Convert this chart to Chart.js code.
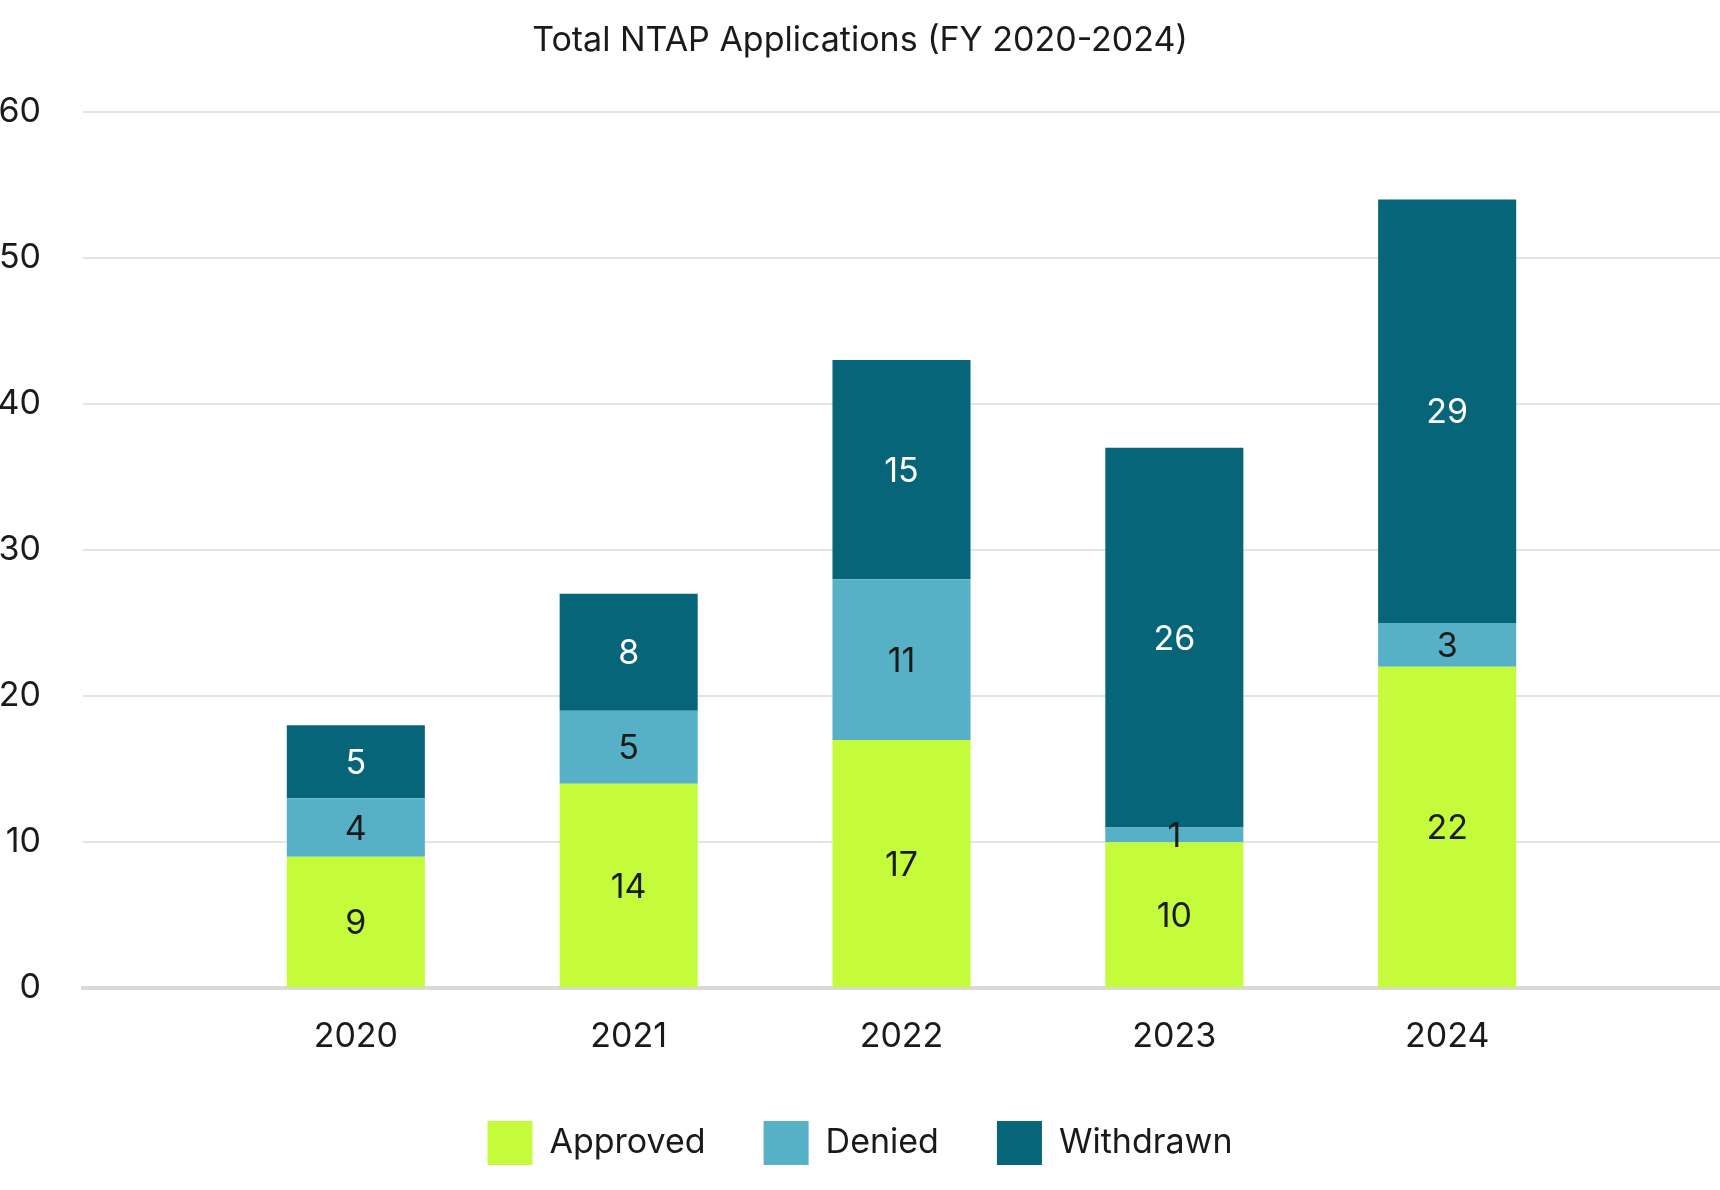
<!DOCTYPE html>
<html>
<head>
<meta charset="utf-8">
<script src="https://cdn.jsdelivr.net/npm/chart.js@4.4.1/dist/chart.umd.min.js"></script>
<style>
  html, body { margin: 0; padding: 0; background: #ffffff; }
  #wrap { width: 1720px; height: 1190px; position: relative; }
</style>
</head>
<body>
<div id="wrap"><canvas id="c" width="1720" height="1190"></canvas></div>
<script>
const categories = ['2020', '2021', '2022', '2023', '2024'];
const approved = [9, 14, 17, 10, 22];
const denied = [4, 5, 11, 1, 3];
const withdrawn = [5, 8, 15, 26, 29];
const seriesNames = ['Approved', 'Denied', 'Withdrawn'];
const seriesColors = ['#c4fc3b', '#56b0c6', '#066579'];
const labelColors = ['#1a1a1a', '#1a1a1a', '#ffffff'];
const yMin = 0, yMax = 60, yStep = 10;
const chartTitle = 'Total NTAP Applications (FY 2020-2024)';

// padded labels so the plot spans half a slot beyond first/last bars
const labels = [''].concat(categories, ['']);
const pad = arr => [null].concat(arr, [null]);

const FONT = 'Inter, "Noto Sans", sans-serif';

const valueLabels = {
  id: 'valueLabels',
  afterDatasetsDraw(chart) {
    const ctx = chart.ctx;
    ctx.save();
    ctx.font = '400 34px ' + FONT;
    ctx.textAlign = 'center';
    ctx.textBaseline = 'middle';
    chart.data.datasets.forEach((ds, di) => {
      const meta = chart.getDatasetMeta(di);
      meta.data.forEach((el, i) => {
        const v = ds.data[i];
        if (v === null || v === undefined) return;
        const p = el.getCenterPoint();
        ctx.fillStyle = labelColors[di];
        ctx.fillText(String(v), p.x, p.y + 2);
      });
    });
    ctx.restore();
  }
};

const dataSeries = [approved, denied, withdrawn];

new Chart(document.getElementById('c'), {
  type: 'bar',
  data: {
    labels: labels,
    datasets: dataSeries.map((arr, k) => ({
      label: seriesNames[k],
      data: pad(arr),
      backgroundColor: seriesColors[k],
      borderWidth: 0,
      categoryPercentage: 1,
      barPercentage: 0.506
    }))
  },
  options: {
    responsive: false,
    animation: false,
    devicePixelRatio: 1,
    layout: { padding: { left: 0, right: 0, top: 0, bottom: 15 } },
    plugins: {
      title: {
        display: true,
        text: chartTitle,
        color: '#1a1a1a',
        font: { family: FONT, size: 34, weight: '400' },
        padding: { top: 20, bottom: 51 }
      },
      legend: {
        position: 'bottom',
        title: { display: true, text: '', font: { size: 1, lineHeight: 1 }, padding: { top: -23, bottom: 0 } },
        labels: {
          color: '#1a1a1a',
          font: { family: FONT, size: 34 },
          boxWidth: 45,
          boxHeight: 44,
          padding: 58
        }
      },
      tooltip: { enabled: false }
    },
    scales: {
      x: {
        stacked: true,
        offset: false,
        grid: { display: false, drawTicks: false },
        border: { display: true, color: '#d9d9d9', width: 4 },
        ticks: {
          color: '#1a1a1a',
          font: { family: FONT, size: 34 },
          padding: 28,
          maxRotation: 0,
          autoSkip: false
        },
        afterFit(scale) { scale.paddingLeft = 0; scale.paddingRight = 0; }
      },
      y: {
        stacked: true,
        min: yMin,
        max: yMax,
        grid: { color: '#e4e4e4', lineWidth: 2, drawTicks: false },
        border: { display: false },
        ticks: {
          stepSize: yStep,
          color: '#1a1a1a',
          font: { family: FONT, size: 34 },
          padding: 42
        },
        afterFit(scale) { scale.width = 83; }
      }
    }
  },
  plugins: [valueLabels]
});
</script>
</body>
</html>
